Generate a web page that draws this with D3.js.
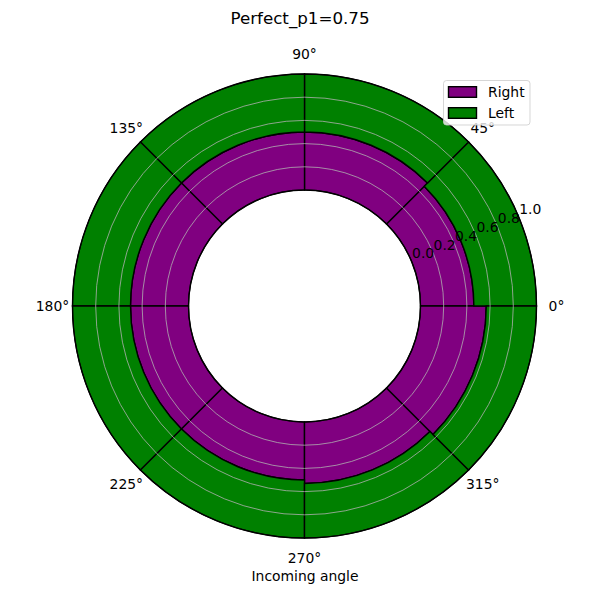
<!DOCTYPE html>
<html>
<head>
<meta charset="utf-8">
<script src="https://cdn.jsdelivr.net/npm/d3@7"></script>
<style>
  html, body { margin: 0; padding: 0; background: #fff; }
  svg { display: block; }
  text { font-family: "DejaVu Sans", sans-serif; fill: #000; }
</style>
</head>
<body>
<div id="chart"></div>
<script>
// ---- data ----
const title = "Perfect_p1=0.75";
const xLabel = "Incoming angle";
const sectorStarts = [0, 45, 90, 135, 180, 225, 270, 315];   // degrees
const sectorWidth = 45;
const rightValues = [0.46, 0.50, 0.50, 0.50, 0.50, 0.50, 0.53, 0.567];
const leftValues  = [0.54, 0.50, 0.50, 0.50, 0.50, 0.50, 0.47, 0.433];
const thetaTicks = [0, 45, 90, 135, 180, 225, 270, 315];
const thetaTickLabels = ["0°", "45°", "90°", "135°", "180°", "225°", "270°", "315°"];
const rTicks = [0.0, 0.2, 0.4, 0.6, 0.8, 1.0];
const rTickLabels = ["0.0", "0.2", "0.4", "0.6", "0.8", "1.0"];
const seriesNames = ["Right", "Left"];
const seriesColors = ["#800080", "#008000"];

// ---- layout ----
const W = 600, H = 600;
const cx = 304.5, cy = 306;
const rInner = 116, rOuter = 232;

const svg = d3.select("#chart").append("svg").attr("width", W).attr("height", H);
const g = svg.append("g").attr("transform", `translate(${cx},${cy})`);

const r = d3.scaleLinear().domain([0, 1]).range([rInner, rOuter]);
const rad = d => d * Math.PI / 180;
// d3.arc angles: clockwise from 12 o'clock; math angle ccw from east
const toD3 = deg => Math.PI / 2 - rad(deg);

const arc = d3.arc();

// Right bars (bottom)
g.selectAll("path.right").data(sectorStarts).join("path")
  .attr("class", "right")
  .attr("d", (d, i) => arc({
    innerRadius: r(0), outerRadius: r(rightValues[i]),
    startAngle: toD3(d + sectorWidth), endAngle: toD3(d)
  }))
  .attr("fill", seriesColors[0])
  .attr("stroke", "#000").attr("stroke-width", 1.4).attr("stroke-linejoin", "miter");

// Left bars (stacked)
g.selectAll("path.left").data(sectorStarts).join("path")
  .attr("class", "left")
  .attr("d", (d, i) => arc({
    innerRadius: r(rightValues[i]), outerRadius: r(rightValues[i] + leftValues[i]),
    startAngle: toD3(d + sectorWidth), endAngle: toD3(d)
  }))
  .attr("fill", seriesColors[1])
  .attr("stroke", "#000").attr("stroke-width", 1.4);

// radial grid circles
g.selectAll("circle.grid").data(rTicks.filter(v => v > 0 && v < 1)).join("circle")
  .attr("class", "grid")
  .attr("r", v => r(v))
  .attr("fill", "none").attr("stroke", "#b0b0b0").attr("stroke-width", 0.8);

// spines
g.append("circle").attr("r", r(1)).attr("fill", "none").attr("stroke", "#000").attr("stroke-width", 1.1);
g.append("circle").attr("r", r(0)).attr("fill", "none").attr("stroke", "#000").attr("stroke-width", 1.1);

// theta tick labels
const labR = 252;
g.selectAll("text.theta").data(thetaTicks).join("text")
  .attr("class", "theta")
  .attr("x", d => labR * Math.cos(rad(d)))
  .attr("y", d => -labR * Math.sin(rad(d)) + 4.8)
  .attr("text-anchor", "middle")
  .attr("font-size", "13.9px")
  .text((d, i) => thetaTickLabels[i]);

// radial tick labels at 22.5°
const rlAng = rad(22.5);
g.selectAll("text.rlab").data(rTicks).join("text")
  .attr("class", "rlab")
  .attr("x", v => r(v) * Math.cos(rlAng) + 11.5)
  .attr("y", v => -r(v) * Math.sin(rlAng) - 8 + 4.8)
  .attr("text-anchor", "middle")
  .attr("font-size", "13.9px")
  .text((v, i) => rTickLabels[i]);

// title
svg.append("text").attr("x", 300).attr("y", 24).attr("text-anchor", "middle")
  .attr("font-size", "16.7px").text(title);

// x label
svg.append("text").attr("x", 305).attr("y", 580.5).attr("text-anchor", "middle")
  .attr("font-size", "13.9px").text(xLabel);

// legend
const lg = svg.append("g");
lg.append("rect").attr("x", 443.5).attr("y", 80.5).attr("width", 86.5).attr("height", 44.5)
  .attr("rx", 3).attr("ry", 3)
  .attr("fill", "#fff").attr("fill-opacity", 0.8)
  .attr("stroke", "#cccccc").attr("stroke-opacity", 0.8).attr("stroke-width", 1);
seriesNames.forEach((name, i) => {
  const y0 = 86.7 + i * 21;
  lg.append("rect").attr("x", 448.5).attr("y", y0).attr("width", 28).attr("height", 10.6)
    .attr("fill", seriesColors[i]).attr("stroke", "#000").attr("stroke-width", 1.4);
  lg.append("text").attr("x", 488).attr("y", y0 + 10.3).attr("font-size", "13.9px").text(name);
});
</script>
</body>
</html>
